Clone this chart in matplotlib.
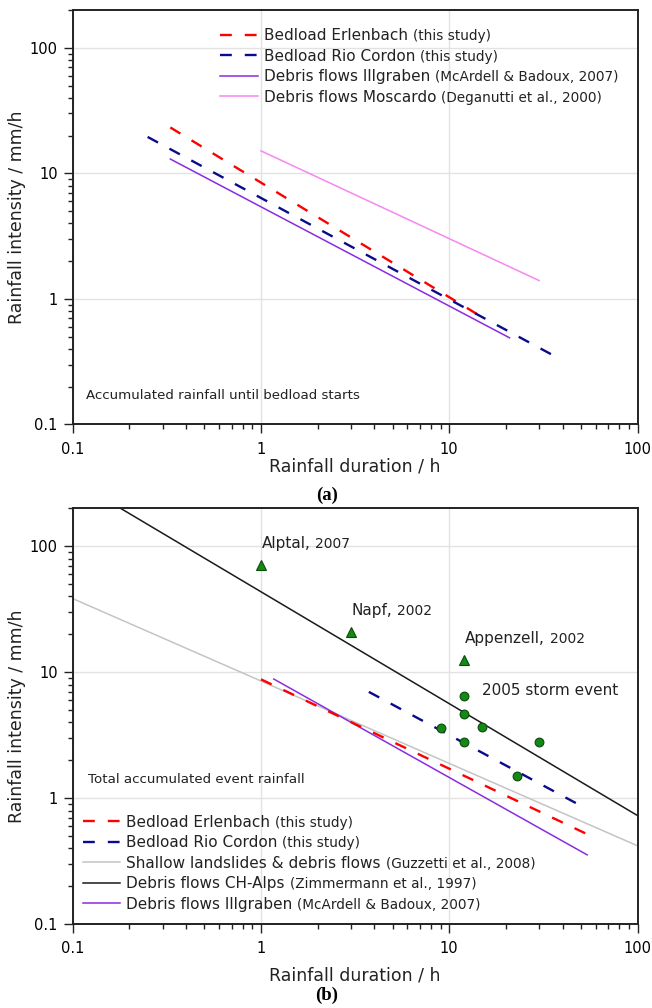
import matplotlib
matplotlib.use("Agg")
import matplotlib.pyplot as plt
from matplotlib.ticker import FixedLocator, FixedFormatter, LogLocator, NullFormatter

plt.rcParams['font.family'] = ['DejaVu Sans']

# (a) rainfall accumulated until bedload starts - threshold lines (end points)
a_names = ["Bedload Erlenbach", "Bedload Rio Cordon", "Debris flows Illgraben", "Debris flows Moscardo"]
a_refs = ["(this study)", "(this study)", "(McArdell & Badoux, 2007)", "(Deganutti et al., 2000)"]
a_dur = [[0.33, 15.3], [0.25, 39.5], [0.33, 20.9], [1.0, 30.0]]
a_int = [[23.2, 0.70], [19.5, 0.327], [13.0, 0.49], [15.1, 1.40]]

# (b) total accumulated event rainfall
b_names = ["Bedload Erlenbach", "Bedload Rio Cordon", "Shallow landslides & debris flows",
           "Debris flows CH-Alps", "Debris flows Illgraben"]
b_refs = ["(this study)", "(this study)", "(Guzzetti et al., 2008)",
          "(Zimmermann et al., 1997)", "(McArdell & Badoux, 2007)"]
b_dur = [[1.0, 57.0], [3.74, 51.0], [0.1, 100.0], [0.18, 100.0], [1.17, 54.0]]
b_int = [[8.8, 0.50], [7.0, 0.86], [38.5, 0.42], [200.0, 0.73], [8.85, 0.356]]

# debris flow events (triangles) and the 2005 storm event (circles)
site_names = ["Alptal,", "Napf,", "Appenzell,"]
site_years = ["2007", "2002", "2002"]
site_dur = [1.0, 3.0, 12.0]
site_int = [71.5, 20.9, 12.5]
storm_dur = [12.0, 12.0, 9.0, 15.0, 12.0, 30.0, 23.0]
storm_int = [6.5, 4.7, 3.6, 3.7, 2.8, 2.8, 1.5]

tick_vals = [0.1, 1, 10, 100]
tick_labels = ["0.1", "1", "10", "100"]

RED = '#ff0000'
BLUE = '#0a0a8c'
PURPLE = '#8a2be2'
PINK = '#f588f0'
GREY = '#c4c4c4'
BLACK = '#1a1a1a'
INK = '#222222'

a_colors = [RED, BLUE, PURPLE, PINK]
a_dashed = [True, True, False, False]
a_z = [3, 4, 2, 2]
b_colors = [RED, BLUE, GREY, BLACK, PURPLE]
b_dashed = [True, True, False, False, False]
b_z = [3, 4, 1, 1, 2]


def draw_panel(ax, durs, ints, names, refs, colors, dashed, zs, leg_anchor):
    lines = []
    for d, i, c, ds, z in zip(durs, ints, colors, dashed, zs):
        if ds:
            ln, = ax.plot(d, i, color=c, lw=1.7, dashes=(5, 5.5), zorder=z)
        else:
            ln, = ax.plot(d, i, color=c, lw=1.1, zorder=z)
        lines.append(ln)

    ax.set_xscale('log')
    ax.set_yscale('log')
    ax.set_xlim(0.1, 100)
    ax.set_ylim(0.1, 200)
    for axis in (ax.xaxis, ax.yaxis):
        axis.set_major_locator(FixedLocator(tick_vals))
        axis.set_major_formatter(FixedFormatter(tick_labels))
        axis.set_minor_locator(LogLocator(base=10, subs=range(2, 10)))
        axis.set_minor_formatter(NullFormatter())
    ax.tick_params(which='major', direction='out', length=6.3, width=1.0, labelsize=10.5, color=INK)
    ax.tick_params(which='minor', direction='out', length=3.3, width=1.0, color=INK)
    ax.tick_params(axis='x', which='major', pad=6)
    ax.tick_params(axis='y', which='major', pad=4.5)
    ax.grid(which='major', color='#e2e2e2', lw=1.0)
    ax.set_axisbelow(True)
    for sp in ax.spines.values():
        sp.set_linewidth(1.4)
        sp.set_color(INK)

    leg = ax.legend(lines, names, loc='upper left', bbox_to_anchor=leg_anchor, frameon=False,
                    fontsize=11, handlelength=2.45, handletextpad=0.4, labelspacing=0.36,
                    borderpad=0, borderaxespad=0)
    leg.set_zorder(5)
    # citation part in a smaller font, hung after each legend label
    for t, r in zip(leg.get_texts(), refs):
        t.set_color(INK)
        ax.annotate(r, xy=(1, 0), xycoords=t, xytext=(3.5, 0), textcoords='offset points',
                    fontsize=9.8, ha='left', va='bottom', color=INK, zorder=6)
    ax.set_ylabel("Rainfall intensity / mm/h", fontsize=12.5, labelpad=3, color=INK)
    ax.set_xlabel("Rainfall duration / h", fontsize=12.5, color=INK)
    return leg


fig = plt.figure(figsize=(6.52, 10.08), dpi=100)
ax_a = fig.add_axes([0.1115, 0.5789, 0.8663, 0.4112])
ax_b = fig.add_axes([0.1115, 0.0830, 0.8663, 0.4126])

draw_panel(ax_a, a_dur, a_int, a_names, a_refs, a_colors, a_dashed, a_z, (0.261, 0.956))
ax_a.text(0.117, 0.169, "Accumulated rainfall until bedload starts", fontsize=9.6,
          va='center', ha='left', color=INK)
ax_a.xaxis.set_label_coords(0.5, -0.080)

draw_panel(ax_b, b_dur, b_int, b_names, b_refs, b_colors, b_dashed, b_z, (0.0177, 0.264))
ax_b.text(0.121, 1.40, "Total accumulated event rainfall", fontsize=9.6,
          va='center', ha='left', color=INK)
ax_b.xaxis.set_label_coords(0.5, -0.1005)

ax_b.plot(site_dur, site_int, ls='none', marker='^', ms=7, mfc='#138a13', mec='#0b4a0b',
          mew=0.8, zorder=5)
ax_b.plot(storm_dur, storm_int, ls='none', marker='o', ms=6.3, mfc='#138a13', mec='#0b4a0b',
          mew=0.8, zorder=5)
for x, y, nm, yr in zip(site_dur, site_int, site_names, site_years):
    t = ax_b.annotate(nm, xy=(x, y), xytext=(0.5, 15.5), textcoords='offset points',
                      fontsize=11, ha='left', va='center', color=INK)
    ax_b.annotate(yr, xy=(1, 0), xycoords=t, xytext=(3.5, 0), textcoords='offset points',
                  fontsize=10, ha='left', va='bottom', color=INK)
ax_b.text(14.9, 7.15, "2005 storm event", fontsize=11, ha='left', va='center', color=INK)

fig.text(0.5015, 1 - 495 / 1008, "(a)", ha='center', va='center', fontsize=13.5,
         fontweight='bold', family='Liberation Serif')
fig.text(0.5015, 1 - 995 / 1008, "(b)", ha='center', va='center', fontsize=13.5,
         fontweight='bold', family='Liberation Serif')

fig.savefig('out.png', dpi=100)
